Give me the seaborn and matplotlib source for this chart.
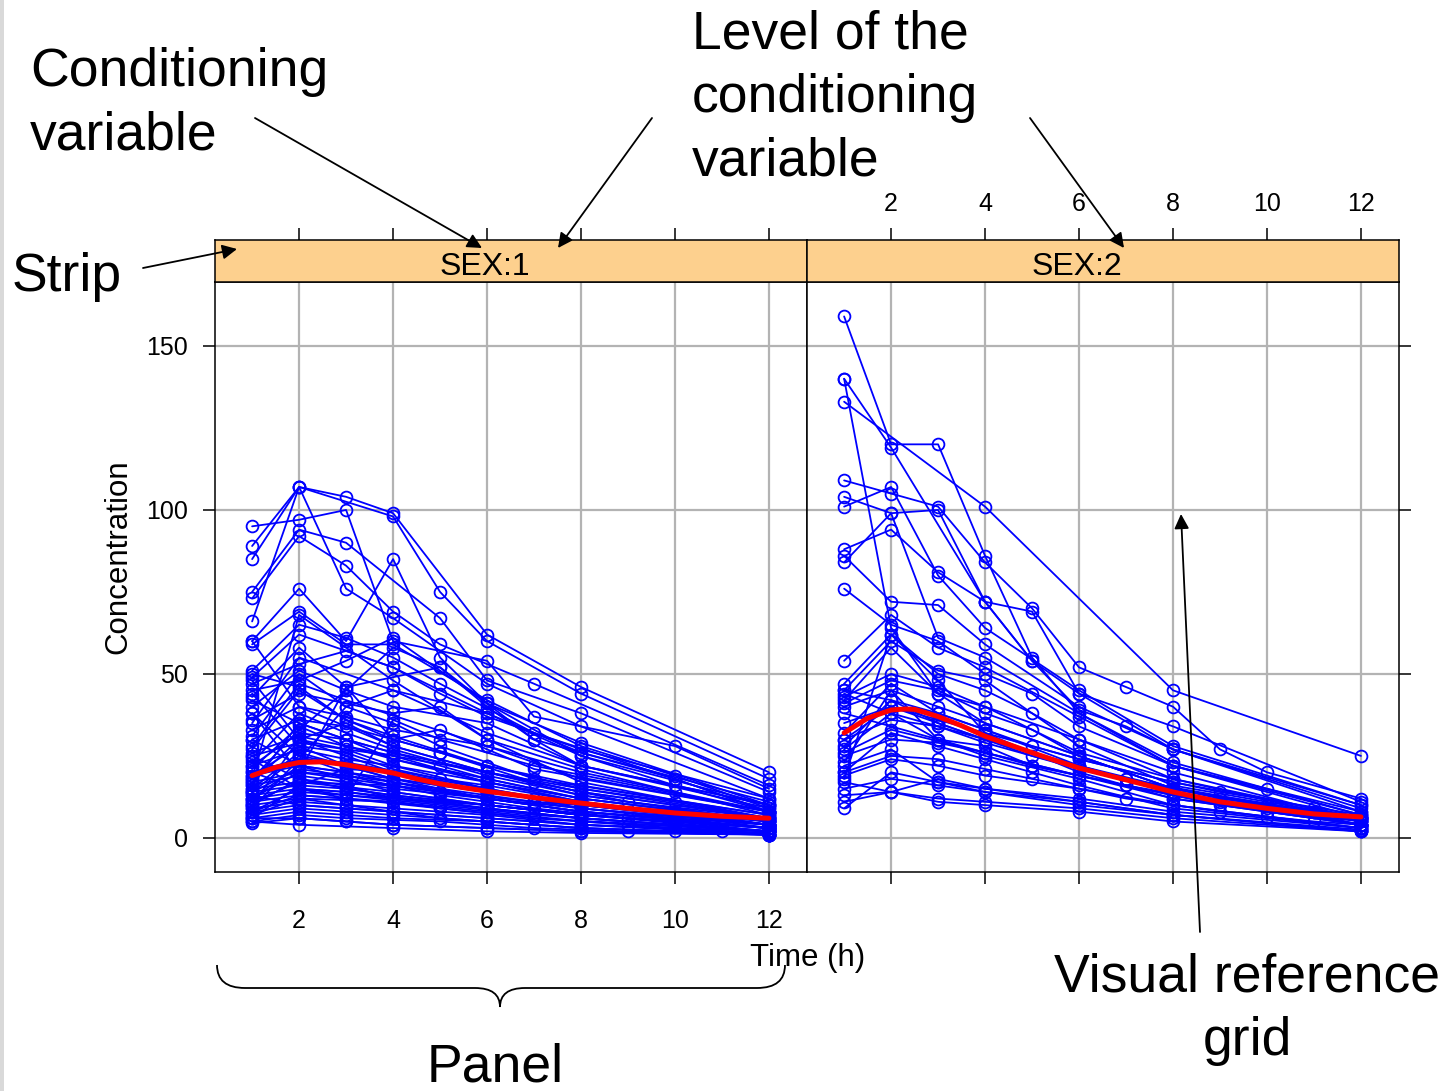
import numpy as np
import pandas as pd
import matplotlib
matplotlib.use("Agg")
import matplotlib.pyplot as plt
from matplotlib.path import Path
from matplotlib.patches import PathPatch, Rectangle
import seaborn as sns

sns.set_style("white")
plt.rcParams['font.family'] = ['Liberation Sans', 'DejaVu Sans']
plt.rcParams['text.color'] = 'black'
plt.rcParams['axes.labelcolor'] = 'black'
plt.rcParams['xtick.color'] = 'black'
plt.rcParams['ytick.color'] = 'black'

# ---- data: SEX 1 subjects (time in h, concentration) ----
sex1_times = [
    [1, 2, 3, 4, 6, 8, 12], [1, 2, 4, 5, 6, 8, 12], [1, 2, 3, 4, 6, 7, 10, 12],
    [1, 2, 3, 5, 6, 8, 12], [1, 2, 3, 4, 5, 7, 12], [1, 2, 3, 4, 6, 8, 12],
    [1, 2, 3, 4, 5, 6, 8, 12], [1, 2, 3, 4, 6, 8, 10, 12], [1, 2, 3, 4, 5, 7, 10, 12],
    [1, 2, 4, 6, 8, 12], [1, 2, 3, 4, 5, 6, 8, 12], [1, 2, 3, 4, 6, 8, 12],
    [1, 2, 3, 5, 7, 10, 12], [1, 2, 3, 4, 6, 8, 12], [1, 2, 3, 4, 5, 7, 12],
    [1, 2, 4, 5, 6, 8, 12], [1, 2, 3, 4, 6, 8, 10, 12], [1, 2, 3, 4, 5, 7, 9, 12],
    [1, 2, 3, 6, 8, 12], [1, 2, 3, 4, 6, 8, 12], [1, 2, 4, 6, 8, 10, 12],
    [1, 2, 3, 4, 5, 7, 12], [1, 2, 3, 4, 6, 8, 12], [1, 2, 3, 5, 6, 8, 12],
    [1, 2, 3, 4, 6, 7, 10, 12], [1, 2, 4, 6, 8, 12], [1, 2, 3, 4, 5, 6, 8, 12],
    [1, 2, 3, 4, 6, 8, 12], [1, 2, 4, 5, 7, 10, 12], [1, 2, 3, 4, 6, 8, 12],
    [1, 2, 3, 5, 6, 8, 12], [1, 2, 3, 4, 6, 8, 10, 12], [1, 2, 3, 4, 5, 7, 12],
    [1, 2, 4, 6, 8, 12], [1, 2, 3, 4, 6, 8, 12], [1, 2, 3, 4, 5, 6, 8, 12],
    [1, 2, 3, 4, 6, 8, 12], [1, 2, 3, 4, 6, 8, 10, 12], [1, 2, 3, 5, 7, 9, 12],
    [1, 2, 4, 6, 8, 12], [1, 2, 3, 4, 6, 8, 12], [1, 2, 3, 4, 6, 8, 12],
    [1, 2, 4, 6, 8, 12], [1, 2, 3, 4, 5, 7, 12], [1, 2, 3, 4, 6, 8, 12],
    [1, 2, 3, 4, 6, 8, 12], [1, 2, 3, 4, 6, 8, 12], [1, 2, 3, 4, 6, 8, 12],
    [1, 2, 4, 6, 8, 10, 12], [1, 2, 3, 4, 6, 8, 12], [1, 2, 3, 4, 6, 8, 12],
    [1, 2, 3, 5, 7, 10, 12], [1, 2, 3, 4, 6, 8, 12], [1, 2, 3, 4, 6, 8, 12],
    [1, 2, 3, 4, 5, 6, 8, 12], [1, 2, 4, 6, 8, 12], [1, 2, 3, 4, 6, 8, 12],
    [1, 2, 3, 4, 6, 8, 12], [1, 2, 3, 4, 5, 6, 7, 8, 12], [1, 2, 3, 4, 6, 8, 10, 12],
    [1, 2, 3, 4, 6, 8, 12], [1, 2, 3, 4, 5, 6, 7, 8, 10, 12], [1, 2, 3, 4, 6, 8, 12],
    [1, 2, 3, 4, 6, 8, 12], [1, 2, 3, 4, 6, 8, 12], [1, 2, 4, 6, 8, 10, 12],
    [1, 2, 3, 5, 7, 9, 11, 12], [1, 2, 3, 4, 6, 8, 12], [1, 2, 3, 4, 6, 8, 12],
    [1, 2, 3, 4, 5, 7, 9, 11, 12], [1, 2, 3, 4, 6, 8, 12], [1, 2, 3, 4, 6, 8, 12],
    [1, 2, 3, 4, 5, 6, 8, 12], [1, 2, 3, 4, 6, 8, 12], [1, 2, 3, 4, 6, 8, 10, 12],
]
sex1_conc = [
    [89, 107, 104, 99, 62, 46, 20], [85, 107, 98, 75, 60, 44, 18], [95, 97, 100, 60, 54, 37, 28, 15],
    [75, 94, 90, 67, 48, 38, 14], [73, 92, 83, 69, 59, 47, 16], [66, 107, 76, 67, 47, 34, 12],
    [60, 76, 60, 85, 55, 41, 29, 10], [59, 69, 59, 59, 42, 28, 19, 9], [51, 65, 61, 55, 47, 32, 18, 8],
    [49, 62, 52, 38, 26, 11], [47, 53, 57, 52, 44, 37, 27, 12], [45, 48, 54, 61, 41, 25, 10],
    [43, 58, 46, 52, 30, 18, 8], [40, 51, 45, 40, 35, 22, 9], [38, 20, 46, 30, 33, 21, 8],
    [36, 44, 38, 40, 30, 21, 7], [33, 40, 37, 33, 28, 20, 14, 8], [30, 36, 34, 30, 26, 17, 11, 6],
    [28, 47, 42, 28, 18, 8], [26, 31, 28, 24, 18, 12, 5], [25, 29, 25, 20, 15, 11, 6],
    [24, 15, 12, 36, 30, 22, 8], [22, 27, 24, 22, 17, 12, 5], [20, 24, 23, 18, 16, 11, 4],
    [19, 22, 20, 18, 14, 12, 8, 4], [18, 68, 48, 30, 17, 6], [17, 20, 19, 17, 14, 12, 9, 4],
    [16, 19, 17, 15, 12, 8, 3], [15, 17, 16, 14, 11, 8, 4], [14, 16, 15, 13, 10, 7, 3],
    [13, 15, 14, 11, 9, 6, 2], [12, 14, 13, 12, 9, 6, 4, 2], [11, 13, 12, 11, 9, 6, 2],
    [10, 12, 11, 8, 5, 2], [9, 11, 10, 9, 7, 4, 1.5], [8, 10, 9, 8, 6, 5, 3, 1],
    [7, 9, 8, 7, 5, 3, 1], [6, 8, 7, 6, 5, 3, 2, 1], [5, 7, 6, 5, 3, 2, 1],
    [5, 4, 3, 2, 1.5, 1], [48, 30, 25, 20, 14, 10, 5], [42, 35, 30, 26, 20, 14, 6],
    [35, 55, 45, 32, 22, 10], [31, 50, 40, 35, 28, 18, 7], [27, 45, 36, 31, 22, 15, 6],
    [23, 38, 32, 27, 19, 13, 5], [21, 34, 28, 25, 17, 11, 4], [17, 30, 27, 22, 15, 9, 3],
    [14, 25, 20, 14, 10, 7, 3], [12, 22, 18, 14, 10, 7, 2], [10, 18, 16, 12, 9, 6, 2],
    [8, 15, 13, 10, 7, 4, 2], [7, 12, 10, 8, 6, 4, 1], [6, 6, 5, 4, 3, 2, 1],
    [50, 46, 36, 30, 26, 22, 16, 7], [60, 40, 28, 20, 14, 6], [44, 28, 22, 18, 14, 10, 5],
    [38, 25, 20, 17, 13, 9, 4], [18, 33, 45, 58, 52, 40, 30, 22, 10], [9, 24, 40, 45, 38, 25, 16, 8],
    [4.5, 6, 5, 4, 3, 2, 1], [12, 20, 18, 16, 14, 12, 10, 8, 6, 4], [15, 26, 22, 18, 12, 8, 3],
    [19, 28, 26, 21, 15, 10, 4], [22, 32, 30, 24, 17, 11, 4], [11, 17, 14, 10, 7, 5, 2],
    [8, 13, 12, 9, 6, 4, 2, 1.5], [25, 18, 15, 13, 10, 7, 3], [30, 22, 20, 17, 12, 8, 3],
    [14, 21, 19, 16, 13, 9, 6, 4, 3], [6, 16, 21, 20, 15, 10, 4], [10, 30, 35, 28, 20, 13, 5],
    [16, 35, 30, 26, 22, 18, 12, 5], [13, 10, 9, 8, 6, 4, 2], [20, 15, 14, 12, 10, 7, 5, 3],
]

# ---- data: SEX 2 subjects ----
sex2_times = [
    [1, 2, 3, 4, 5, 6, 8, 12], [1, 2, 4, 5, 6, 8, 12], [1, 2, 3, 4, 6, 8, 12],
    [1, 4, 8, 12], [1, 2, 3, 4, 5, 6, 7, 8, 9, 10, 12], [1, 2, 3, 4, 5, 6, 8, 12],
    [1, 2, 3, 4, 6, 8, 12], [1, 2, 3, 4, 5, 6, 7, 8, 12], [1, 2, 3, 4, 6, 8, 12],
    [1, 2, 3, 4, 6, 8, 10, 12], [1, 2, 3, 4, 5, 6, 8, 12], [1, 2, 3, 4, 6, 8, 12],
    [1, 2, 3, 4, 5, 6, 8, 12], [1, 2, 3, 4, 6, 8, 12], [1, 2, 3, 4, 6, 8, 12],
    [1, 2, 3, 4, 5, 6, 8, 12], [1, 2, 3, 4, 6, 8, 12], [1, 2, 3, 4, 6, 8, 10, 12],
    [1, 2, 3, 4, 5, 7, 12], [1, 2, 3, 4, 6, 8, 12], [1, 2, 3, 4, 6, 8, 12],
    [1, 2, 3, 4, 6, 8, 12], [1, 2, 3, 4, 5, 6, 8, 12], [1, 2, 3, 4, 6, 8, 12],
    [1, 2, 3, 4, 6, 8, 12], [1, 2, 3, 4, 6, 8, 12], [1, 2, 3, 4, 6, 8, 12],
    [1, 2, 3, 4, 6, 8, 12], [1, 2, 3, 4, 5, 7, 9, 12], [1, 2, 3, 4, 6, 8, 12],
    [1, 2, 3, 4, 6, 8, 11, 12], [1, 2, 3, 4, 6, 8, 10, 12], [1, 2, 3, 4, 6, 8, 12],
    [1, 2, 3, 4, 6, 8, 12], [1, 2, 3, 4, 5, 6, 7, 8, 9, 10, 11, 12],
    [1, 2, 3, 4, 6, 7, 8, 9, 10, 11, 12], [1, 3, 5, 7, 9, 11, 12],
    [1, 2, 3, 4, 6, 8, 12], [1, 2, 4, 6, 8, 10, 12], [1, 2, 3, 4, 5, 6, 8, 9, 12],
]
sex2_conc = [
    [159, 120, 120, 86, 55, 38, 22, 8], [140, 119, 72, 54, 44, 27, 10], [140, 64, 44, 35, 25, 15, 6],
    [133, 101, 45, 25], [109, 105, 101, 84, 70, 52, 46, 40, 27, 20, 12], [104, 99, 100, 72, 69, 44, 34, 11],
    [101, 107, 80, 64, 45, 28, 10], [88, 94, 81, 72, 54, 39, 34, 27, 9], [86, 72, 71, 59, 40, 27, 8],
    [84, 99, 61, 55, 38, 23, 15, 7], [76, 65, 60, 50, 44, 34, 22, 7], [54, 68, 58, 52, 37, 22, 6],
    [47, 62, 50, 45, 38, 30, 18, 6], [45, 60, 51, 48, 28, 16, 6], [43, 50, 46, 40, 30, 20, 5],
    [41, 48, 45, 38, 33, 25, 15, 5], [40, 45, 40, 35, 25, 15, 4], [32, 47, 38, 33, 22, 15, 10, 4],
    [30, 36, 34, 30, 25, 18, 5], [28, 42, 35, 30, 22, 14, 4], [25, 30, 29, 26, 19, 12, 4],
    [23, 45, 30, 25, 18, 10, 3], [20, 32, 28, 24, 20, 16, 9, 3], [19, 24, 22, 19, 15, 10, 3],
    [18, 62, 48, 32, 20, 12, 4], [13, 14, 12, 11, 9, 6, 2], [11, 14, 11, 10, 8, 5, 2],
    [9, 20, 17, 14, 11, 7, 2.5], [44, 38, 30, 28, 22, 16, 10, 5], [42, 58, 44, 40, 26, 18, 5],
    [35, 40, 36, 32, 24, 17, 9, 6], [27, 38, 34, 29, 21, 14, 9, 4], [22, 27, 17, 15, 12, 8, 3],
    [17, 14, 18, 15, 11, 7, 2], [20, 25, 24, 21, 18, 15, 12, 10, 8, 6.5, 5, 4],
    [30, 40, 35, 30, 22, 18, 15, 12, 10, 8, 6], [38, 30, 22, 16, 11, 8, 6],
    [15, 18, 16, 14, 10, 7, 2], [26, 33, 26, 19, 13, 8, 4], [45, 42, 38, 33, 28, 24, 17, 14, 7],
]

# smoother
smooth_t1 = [1, 1.5, 2, 2.5, 3, 3.5, 4, 4.5, 5, 5.5, 6, 7, 8, 9, 10, 11, 12]
smooth_c1 = [19, 21.5, 23, 23.2, 22.3, 21, 19.8, 18, 16.5, 15.3, 14.2, 12.3, 10.6, 9, 7.6, 6.6, 6]
smooth_t2 = [1, 1.5, 2, 2.3, 2.5, 3, 3.5, 4, 4.5, 5, 5.5, 6, 7, 8, 9, 10, 11, 12]
smooth_c2 = [32, 36.5, 39, 39.3, 39.2, 37, 34.2, 31, 28.5, 26, 23.6, 21.3, 17.7, 14, 11, 9, 7.3, 6.4]

x_ticks = [2, 4, 6, 8, 10, 12]
y_ticks = [0, 50, 100, 150]


def to_long(times, conc):
    rows = []
    for i, (tt, cc) in enumerate(zip(times, conc)):
        for t, c in zip(tt, cc):
            rows.append((i, t, c))
    return pd.DataFrame(rows, columns=['subject', 'time', 'conc'])


W, H = 1450, 1091
fig = plt.figure(figsize=(W / 100, H / 100), dpi=100)


def frac(x0, y0, x1, y1):
    # pixel box (top-left origin) -> figure fraction rect
    return [x0 / W, 1 - y1 / H, (x1 - x0) / W, (y1 - y0) / H]


panels = [(215, 807, sex1_times, sex1_conc, smooth_t1, smooth_c1, 'SEX:1', 485),
          (807, 1399, sex2_times, sex2_conc, smooth_t2, smooth_c2, 'SEX:2', 1077)]

tick_len = 8.5
tick_size = 18
for k, (x0, x1, tt, cc, st, sc, lab, lab_x) in enumerate(panels):
    ax = fig.add_axes(frac(x0, 282, x1, 872))
    df = to_long(tt, cc)
    sns.lineplot(data=df, x='time', y='conc', units='subject', estimator=None,
                 color='#0000FF', lw=1.3, marker='o', markersize=8.5,
                 markerfacecolor='none', markeredgecolor='#0000FF',
                 markeredgewidth=1.3, ax=ax, zorder=3)
    sns.lineplot(x=st, y=sc, color='#FF0000', lw=3.6, ax=ax, zorder=4)
    ax.set_xlim(0.21, 12.81)
    ax.set_ylim(-10.4, 169.5)
    ax.set_xticks(x_ticks)
    ax.set_yticks(y_ticks)
    ax.grid(True, color='#b3b3b3', lw=1.6, zorder=0)
    ax.set_axisbelow(True)
    ax.set_xlabel('')
    ax.set_ylabel('')
    for s in ax.spines.values():
        s.set_color('black')
        s.set_linewidth(1.1)
    ax.tick_params(axis='x', direction='out', length=tick_len, width=1.1,
                   labelsize=tick_size, colors='black', pad=18)
    ax.tick_params(axis='y', direction='out', length=tick_len, width=1.1,
                   labelsize=tick_size, colors='black', pad=11)
    if k == 0:
        ax.tick_params(left=True, right=False, bottom=True, top=False,
                       labelleft=True, labelbottom=True)
    else:
        ax.tick_params(left=False, right=True, bottom=True, top=False,
                       labelleft=False, labelright=False, labelbottom=False)

    strip = fig.add_axes(frac(x0, 240, x1, 282), sharex=ax)
    strip.set_facecolor('#FDD08E')
    strip.set_yticks([])
    strip.tick_params(axis='x', bottom=False, top=True, labelbottom=False,
                      labeltop=(k == 1), direction='out', length=tick_len,
                      width=1.1, labelsize=tick_size, pad=9, colors='black')
    for s in strip.spines.values():
        s.set_color('black')
        s.set_linewidth(1.1)
    strip.text((lab_x - x0) / (x1 - x0), 0.36, lab, transform=strip.transAxes,
               ha='center', va='center', fontsize=23)

# overlay in pixel coordinates for annotations
ov = fig.add_axes([0, 0, 1, 1])
ov.set_xlim(0, W)
ov.set_ylim(H, 0)
ov.axis('off')
ov.patch.set_alpha(0)

ov.add_patch(Rectangle((0, 0), 4, H, color='#d9d9d9', lw=0))

ov.text(118, 557, 'Concentration', rotation=90, ha='center', va='center', fontsize=22.5)
ov.text(808, 958, 'Time (h)', ha='center', va='center', fontsize=22.5)

big = 38.5
ov.text(30, 104, 'Conditioning\nvariable', ha='left', va='center',
        fontsize=big, linespacing=1.35)
ov.text(692, 98, 'Level of the\nconditioning\nvariable', ha='left', va='center',
        fontsize=big, linespacing=1.35)
ov.text(12, 277, 'Strip', ha='left', va='center', fontsize=big)
ov.text(1247, 1009, 'Visual reference\ngrid', ha='center', va='center',
        fontsize=big, linespacing=1.35)
ov.text(495, 1068, 'Panel', ha='center', va='center', fontsize=big)

arrows = [((255, 118), (482, 248)), ((652, 118), (558, 248)),
          ((1030, 118), (1124, 248)), ((143, 268), (237, 249)),
          ((1200, 932), (1181, 514))]
for (xs, ys), (xe, ye) in arrows:
    ov.annotate('', xy=(xe, ye), xytext=(xs, ys),
                arrowprops=dict(arrowstyle='-|>', color='black', lw=1.3,
                                mutation_scale=22, shrinkA=0, shrinkB=0))

# curly brace under the left panel
verts = [(217, 965), (217, 988), (245, 988), (475, 988), (500, 988), (500, 1007),
         (500, 988), (525, 988), (757, 988), (785, 988), (785, 965)]
codes = [Path.MOVETO, Path.CURVE3, Path.CURVE3, Path.LINETO, Path.CURVE3, Path.CURVE3,
         Path.CURVE3, Path.CURVE3, Path.LINETO, Path.CURVE3, Path.CURVE3]
ov.add_patch(PathPatch(Path(verts, codes), fill=False, lw=1.3, color='black'))

fig.savefig('out.png', dpi=100)
